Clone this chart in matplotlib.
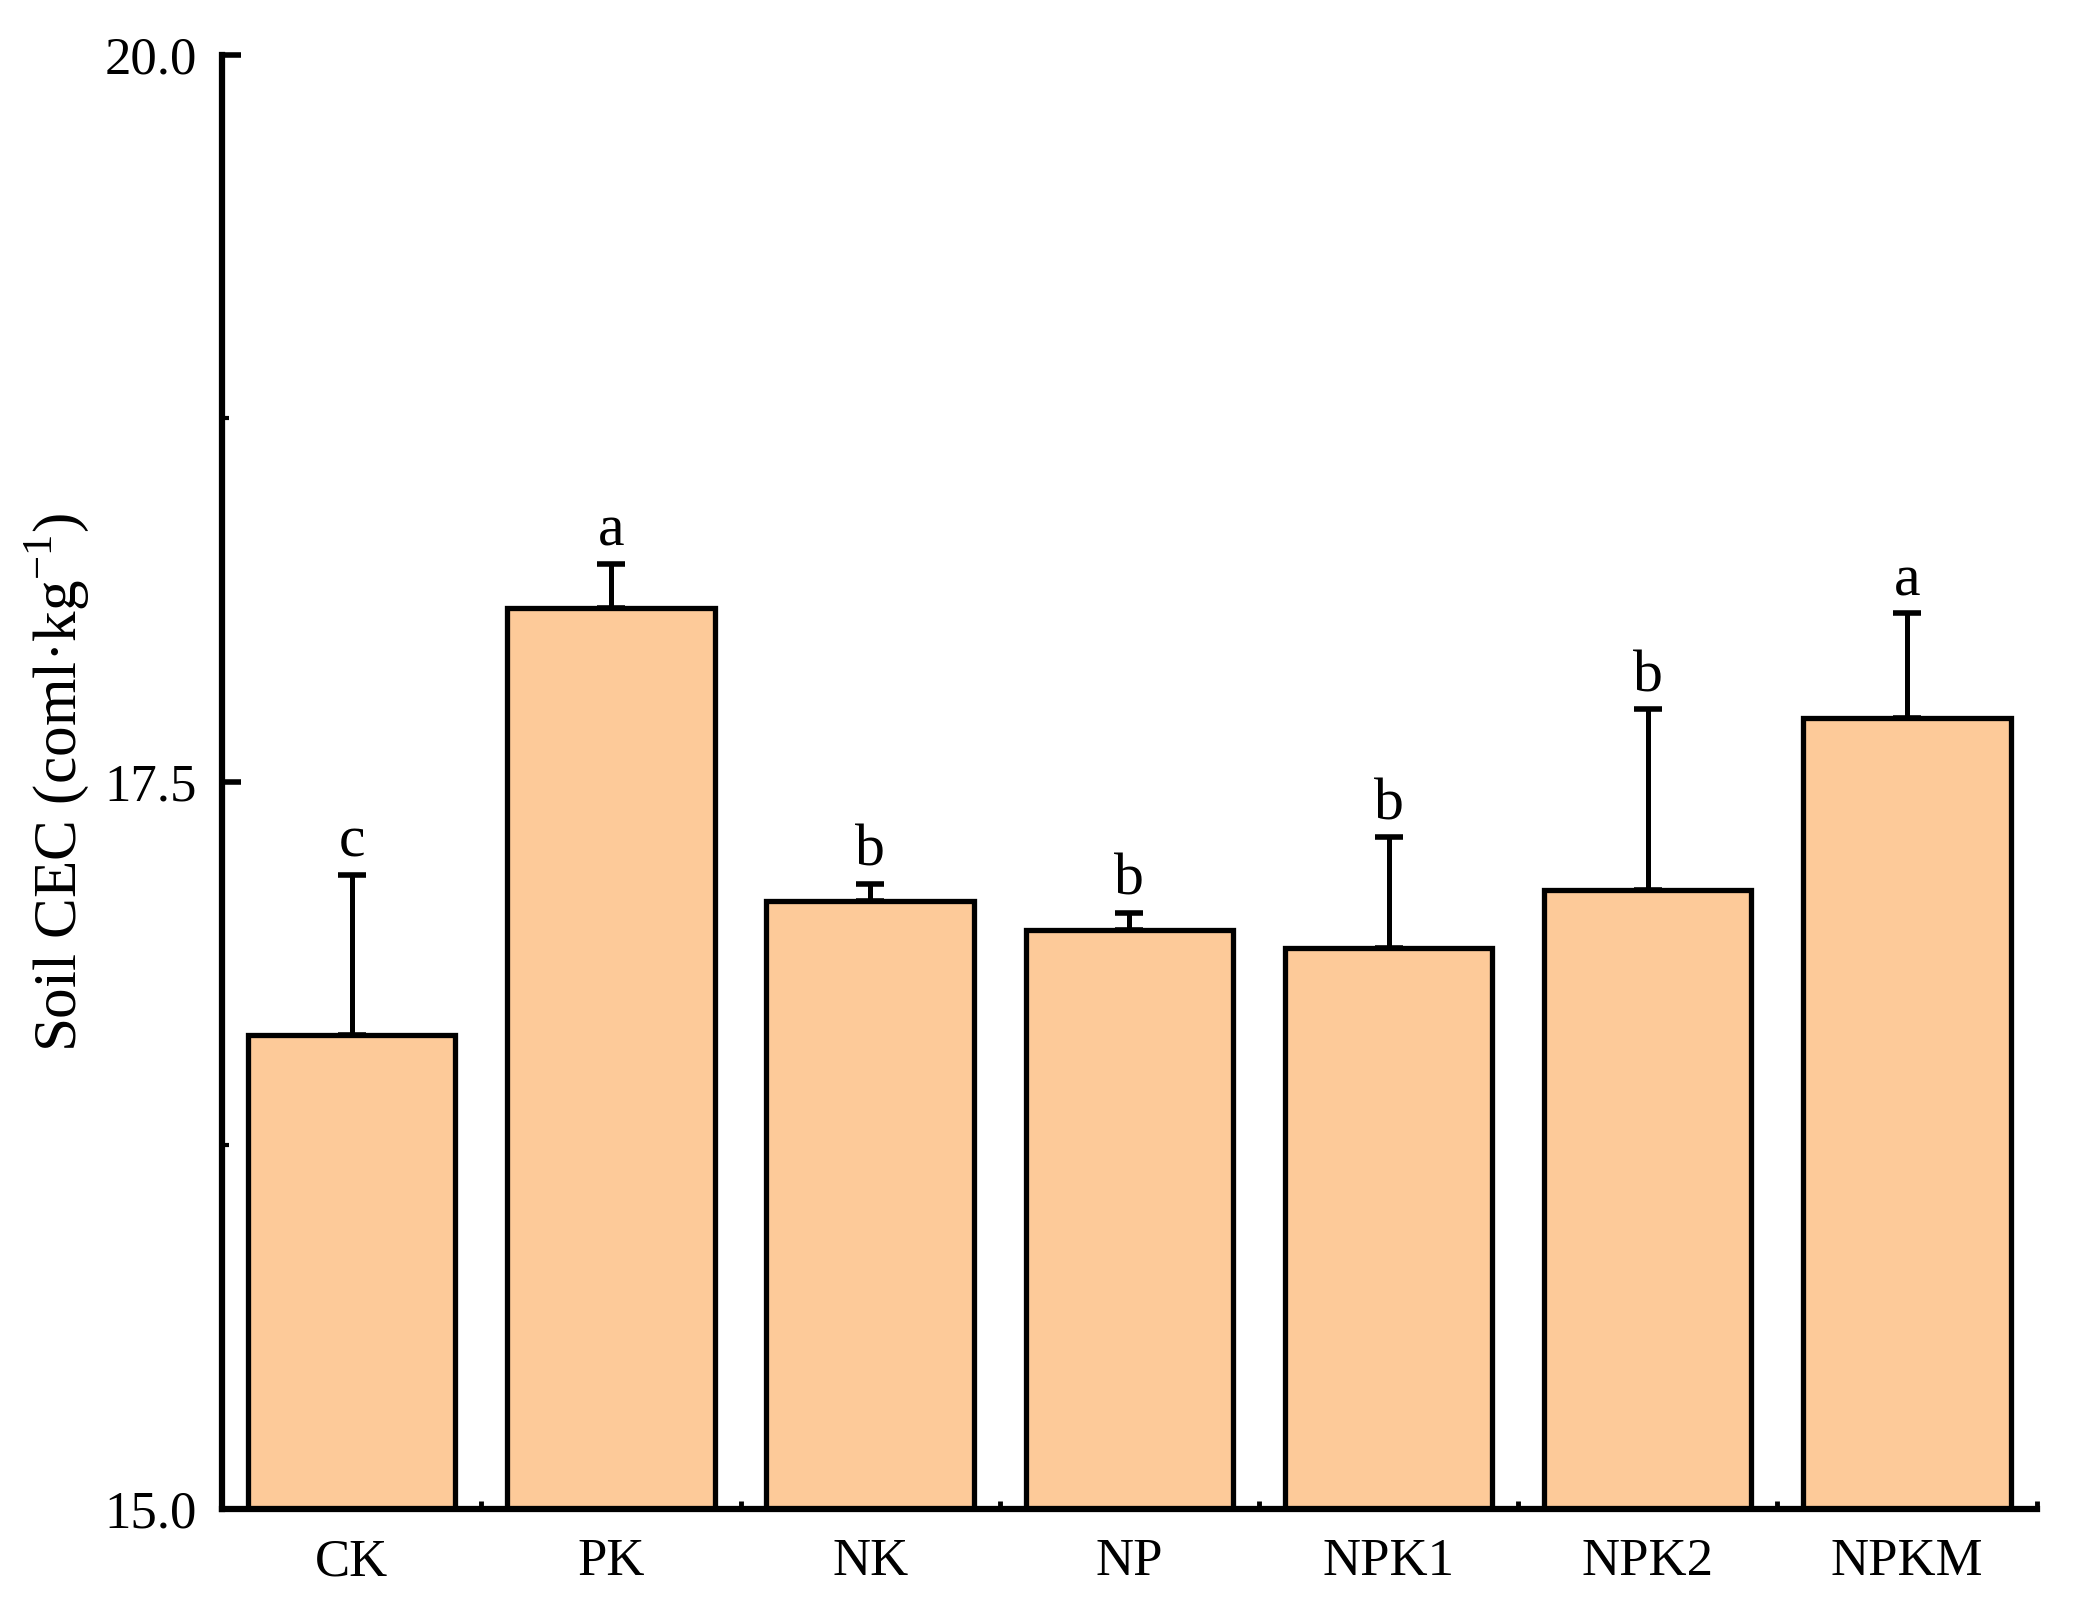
import matplotlib.pyplot as plt
import numpy as np

# Treatments and soil CEC values
treatments = ["CK", "PK", "NK", "NP", "NPK1", "NPK2", "NPKM"]
cec_mean = [16.63, 18.10, 17.09, 16.99, 16.93, 17.13, 17.72]
cec_err = [0.55, 0.15, 0.06, 0.06, 0.38, 0.62, 0.36]
letters = ["c", "a", "b", "b", "b", "b", "a"]

plt.rcParams['font.family'] = ['Liberation Serif', 'DejaVu Serif']
plt.rcParams['mathtext.fontset'] = 'custom'
plt.rcParams['mathtext.rm'] = 'Liberation Serif'

fig = plt.figure(figsize=(20.76, 16.18), dpi=100)
ax = fig.add_axes([0.107, 0.0674, 0.874, 0.8986])

x = np.arange(len(treatments))
ax.bar(x, cec_mean, width=0.8, color='#FDCA99', edgecolor='black',
       linewidth=3.8, zorder=2)
ax.errorbar(x, cec_mean, yerr=[np.zeros(len(x)), cec_err], fmt='none',
            ecolor='black', elinewidth=3.6, capsize=10, capthick=4, zorder=3)

# significance letters above the error bars
for xi, m, e, lab in zip(x, cec_mean, cec_err, letters):
    ax.annotate(lab, (xi, m + e), xytext=(0, 13), textcoords='offset points',
                ha='center', va='baseline', fontsize=43)

ax.set_xlim(-0.5, 6.5)
ax.set_ylim(15.0, 20.0)

ax.spines['top'].set_visible(False)
ax.spines['right'].set_visible(False)
ax.spines['left'].set_linewidth(4.5)
ax.spines['bottom'].set_linewidth(4.5)

ax.set_yticks([15.0, 17.5, 20.0])
ax.set_yticklabels(["15.0", "17.5", "20.0"])
ax.set_yticks([16.25, 18.75], minor=True)
ax.tick_params(axis='y', which='major', direction='in', length=14, width=4,
               labelsize=38, pad=18)
ax.tick_params(axis='y', which='minor', direction='in', length=5, width=3)

ax.set_xticks(x)
ax.set_xticklabels(treatments)
ax.set_xticks(np.arange(0.5, 7.0, 1.0), minor=True)
ax.tick_params(axis='x', which='major', length=0, labelsize=38, pad=21)
ax.tick_params(axis='x', which='minor', direction='in', length=6, width=3.5)

ax.set_ylabel(r"Soil CEC (coml·kg$^{-1}$)", fontsize=44, labelpad=10)

plt.savefig("out.png", dpi=100)
